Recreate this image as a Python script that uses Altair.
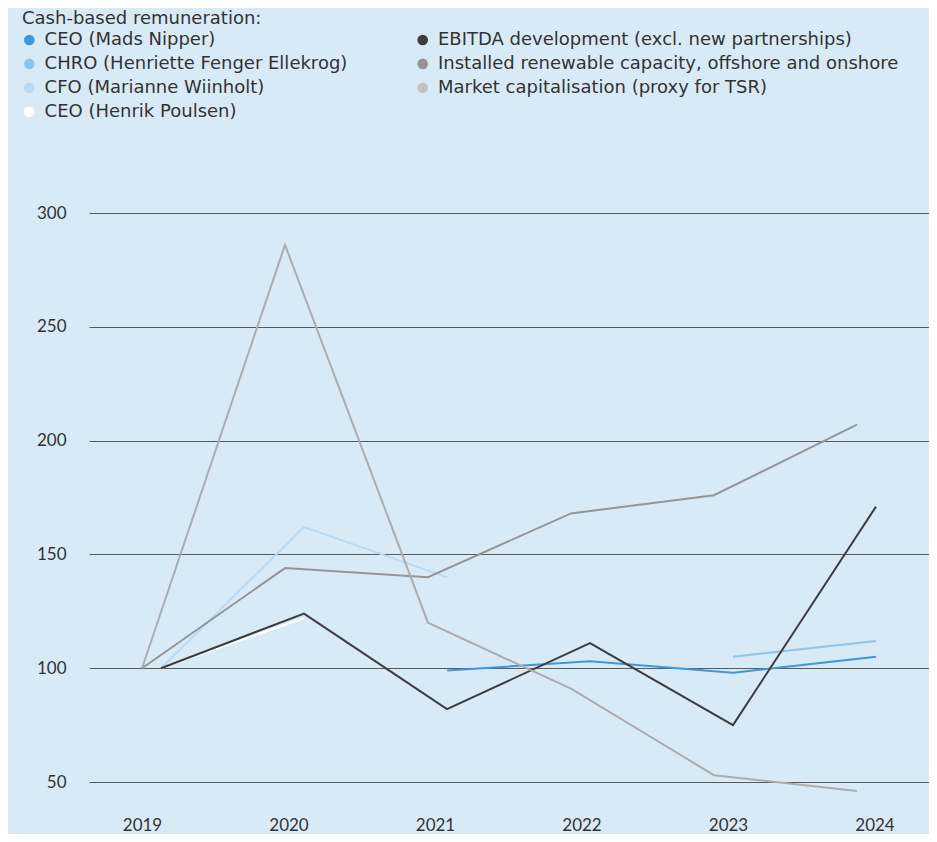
import altair as alt
import pandas as pd

# ---------------- data ----------------
years = [2019, 2020, 2021, 2022, 2023, 2024]

ceo_mads = [None, None, 99, 103, 98, 105]
chro_henriette = [None, None, None, None, 105, 112]
cfo_marianne = [100, 162, 140, None, None, None]
ceo_henrik = [100, 122, None, None, None, None]
ebitda = [100, 124, 82, 111, 75, 171]
installed_capacity = [100, 144, 140, 168, 176, 207]
market_cap = [100, 286, 120, 91, 53, 46]

legend_title = "Cash-based remuneration:"
series_names = [
    "CEO (Mads Nipper)",
    "CHRO (Henriette Fenger Ellekrog)",
    "CFO (Marianne Wiinholt)",
    "CEO (Henrik Poulsen)",
    "EBITDA development (excl. new partnerships)",
    "Installed renewable capacity, offshore and onshore",
    "Market capitalisation (proxy for TSR)",
]
series_values = [ceo_mads, chro_henriette, cfo_marianne, ceo_henrik,
                 ebitda, installed_capacity, market_cap]
series_group = ["rem", "rem", "rem", "rem", "rem", "kpi", "kpi"]
legend_col = [0, 0, 0, 0, 1, 1, 1]
legend_row = [0, 1, 2, 3, 0, 1, 2]

line_colors = ["#3d97dc", "#8ec3ea", "#b8d9f1", "#ffffff",
               "#3c3c3c", "#959595", "#acacac"]
legend_colors = ["#3d97dc", "#8ec3ea", "#b8d9f1", "#ffffff",
                 "#3c3c3c", "#959595", "#c2c2c2"]

y_ticks = [50, 100, 150, 200, 250, 300]

# ---------------- tables ----------------
rows = []
for name, vals, grp in zip(series_names, series_values, series_group):
    for yr, v in zip(years, vals):
        if v is not None:
            rows.append({"series": name, "year": yr, "value": v, "group": grp})
df = pd.DataFrame(rows)

leg_df = pd.DataFrame({"label": series_names, "col": legend_col, "row": legend_row})
title_df = pd.DataFrame({"label": [legend_title], "col": [0], "row": [-1]})
year_df = pd.DataFrame({"year": years})

AXFONT = "Lato"
LEGFONT = "DejaVu Sans"
TXT = "#333333"

lines = (
    alt.Chart(df)
    .transform_calculate(xpos="datum.year + (datum.group == 'kpi' ? -0.0664 : 0.0664)")
    .mark_line(strokeWidth=2)
    .encode(
        x=alt.X("xpos:Q", scale=alt.Scale(domain=[2018.5629, 2024.4371], nice=False, zero=False), axis=None),
        y=alt.Y(
            "value:Q",
            scale=alt.Scale(domain=[50, 300], nice=False, zero=False),
            axis=alt.Axis(values=y_ticks, grid=True, gridColor="#5a5a5a", gridWidth=1,
                          domain=False, ticks=False, labelPadding=23, labelFontSize=17,
                          labelColor=TXT, labelFont=AXFONT, title=None),
        ),
        color=alt.Color("series:N", scale=alt.Scale(domain=series_names, range=line_colors), legend=None),
    )
)

xlabels = (
    alt.Chart(year_df)
    .mark_text(fontSize=17, color=TXT, font=AXFONT, baseline="middle", align="center")
    .encode(
        x=alt.X("year:Q", scale=alt.Scale(domain=[2018.6348, 2024.3686], nice=False, zero=False), axis=None),
        y=alt.value(613),
        text="year:N",
    )
)

leg_x = alt.X("col:Q", scale=alt.Scale(domain=[0, 1], range=[-59.7, 333.7], nice=False, zero=False), axis=None)
leg_y = alt.Y("row:Q", scale=alt.Scale(domain=[0, 3], range=[-173, -101.3], nice=False, zero=False), axis=None)

leg_points = (
    alt.Chart(leg_df)
    .mark_point(filled=True, size=113, opacity=1)
    .encode(
        x=leg_x, y=leg_y,
        color=alt.Color("label:N", scale=alt.Scale(domain=series_names, range=legend_colors), legend=None),
    )
)
leg_text = (
    alt.Chart(leg_df)
    .mark_text(fontSize=18, color=TXT, font=LEGFONT, align="left", baseline="middle", dx=15.3)
    .encode(x=leg_x, y=leg_y, text="label:N")
)
leg_title = (
    alt.Chart(title_df)
    .mark_text(fontSize=18, color=TXT, font=LEGFONT, align="left", baseline="middle", dx=-7.3, dy=2.5)
    .encode(x=leg_x, y=leg_y, text="label:N")
)

chart = (
    alt.layer(lines, xlabels, leg_points, leg_text, leg_title)
    .resolve_scale(x="independent", y="independent", color="independent")
    .properties(
        width=840, height=569,
        autosize=alt.AutoSizeParams(type="none"),
        padding={"left": 81, "top": 205, "right": 0, "bottom": 52},
        background="#d9eaf7",
    )
    .configure_view(stroke=None)
)

chart.save("out.html", embed_options={"renderer": "svg", "actions": False})
